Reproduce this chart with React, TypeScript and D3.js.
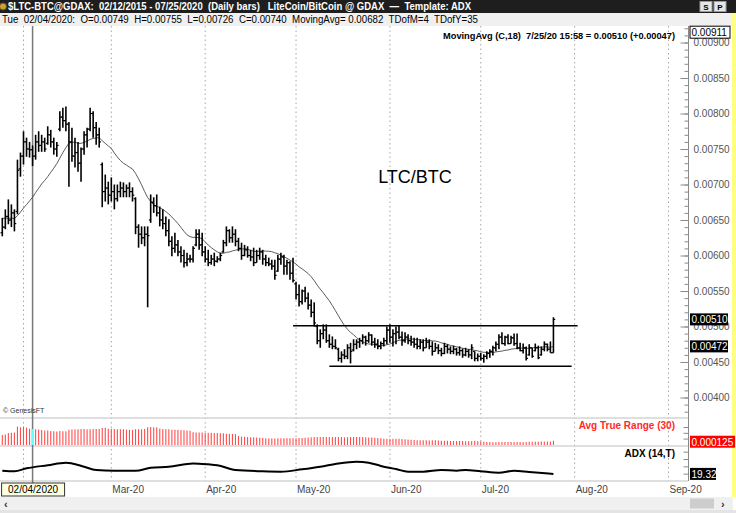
import * as d3 from "d3";
import { useEffect, useRef } from "react";

const W = 736;
const H = 513;
const FONT = "'Liberation Sans', Arial, sans-serif";

// daily bars, one per calendar day from FIRST_DAY; prices in 1e-5 BTC
const FIRST_DAY = "2020-01-25";
const OPEN = [
  632, 640, 655, 650, 660, 662, 722, 740, 760, 750,
  749, 740, 760, 755, 760, 758, 770, 760, 750, 778,
  795, 790, 785, 760, 740, 745, 730, 750, 770, 778,
  800, 780, 770, 728, 690, 695, 685, 690, 680, 690,
  695, 690, 695, 690, 680, 640, 630, 625, 630, 650,
  675, 670, 660, 650, 645, 635, 620, 610, 615, 605,
  600, 590, 595, 595, 615, 630, 615, 605, 595, 590,
  595, 592, 595, 605, 618, 635, 625, 630, 620, 610,
  600, 608, 600, 598, 590, 600, 605, 595, 590, 588,
  585, 578, 595, 598, 585, 590, 575, 560, 545, 535,
  550, 540, 530, 520, 500, 480, 490, 495, 480, 475,
  472, 468, 455, 460, 458, 470, 467, 475, 478, 480,
  485, 480, 488, 478, 475, 472, 476, 480, 495, 485,
  490, 492, 485, 480, 485, 480, 478, 475, 472, 478,
  470, 478, 472, 465, 470, 466, 462, 472, 468, 465,
  468, 463, 466, 460, 465, 460, 465, 455, 458, 455,
  458, 462, 465, 470, 475, 485, 476, 485, 476, 484,
  476, 470, 466, 470, 460, 470, 466, 470, 460, 468,
  475, 468, 463,
];
const HIGH = [
  653, 665, 679, 672, 665, 735, 745, 775, 766, 760,
  755, 770, 775, 770, 766, 782, 777, 766, 760, 803,
  808, 810, 788, 780, 766, 760, 752, 775, 780, 808,
  803, 788, 780, 731, 714, 704, 710, 700, 700, 704,
  703, 700, 703, 696, 682, 644, 641, 641, 641, 686,
  682, 686, 669, 665, 655, 651, 627, 632, 622, 613,
  608, 604, 601, 613, 637, 637, 632, 613, 608, 601,
  604, 599, 604, 622, 641, 637, 641, 637, 625, 618,
  615, 613, 608, 611, 608, 611, 608, 601, 597, 594,
  594, 601, 604, 601, 594, 592, 597, 563, 559, 552,
  556, 548, 538, 534, 503, 496, 503, 503, 489, 486,
  482, 470, 465, 468, 475, 477, 482, 482, 484, 489,
  487, 492, 489, 484, 482, 479, 484, 500, 503, 496,
  500, 501, 493, 492, 489, 487, 484, 484, 482, 482,
  484, 482, 479, 477, 475, 470, 477, 475, 472, 473,
  470, 472, 469, 470, 468, 475, 465, 462, 463, 461,
  465, 468, 473, 479, 489, 492, 487, 489, 487, 490,
  490, 477, 476, 472, 475, 470, 476, 473, 472, 479,
  476, 479, 513,
];
const LOW = [
  627, 637, 644, 640, 634, 658, 711, 728, 739, 738,
  726, 735, 746, 746, 746, 756, 752, 742, 739, 775,
  780, 775, 697, 732, 724, 718, 704, 742, 752, 775,
  766, 756, 752, 668, 676, 672, 676, 665, 676, 682,
  682, 682, 682, 676, 630, 611, 616, 613, 527, 646,
  660, 655, 641, 637, 627, 613, 599, 604, 599, 590,
  583, 585, 590, 590, 613, 608, 599, 590, 585, 587,
  585, 590, 592, 604, 613, 618, 618, 613, 606, 594,
  599, 597, 592, 585, 590, 594, 587, 585, 585, 580,
  566, 577, 587, 573, 573, 566, 562, 538, 528, 531,
  534, 524, 513, 500, 475, 470, 482, 477, 470, 468,
  468, 451, 449, 454, 454, 448, 465, 468, 470, 475,
  473, 477, 473, 470, 468, 468, 472, 475, 477, 472,
  475, 482, 473, 477, 475, 473, 470, 468, 468, 465,
  470, 468, 459, 465, 461, 458, 461, 462, 461, 461,
  459, 459, 456, 458, 456, 454, 451, 451, 452, 449,
  454, 456, 459, 465, 468, 475, 473, 475, 476, 473,
  468, 465, 462, 452, 459, 456, 465, 454, 459, 465,
  465, 463, 463,
];
const CLOSE = [
  640, 655, 650, 660, 645, 720, 740, 760, 750, 749,
  740, 760, 755, 760, 750, 770, 760, 750, 755, 795,
  790, 785, 760, 740, 745, 730, 750, 770, 778, 800,
  780, 770, 760, 690, 695, 685, 690, 680, 690, 695,
  690, 695, 690, 685, 640, 630, 625, 630, 628, 675,
  670, 660, 650, 645, 635, 620, 610, 615, 605, 600,
  590, 595, 595, 610, 630, 615, 605, 595, 590, 595,
  592, 595, 600, 618, 635, 625, 630, 620, 610, 600,
  608, 600, 598, 590, 600, 605, 595, 590, 588, 585,
  572, 595, 598, 585, 590, 575, 565, 545, 535, 550,
  540, 530, 520, 505, 480, 490, 495, 480, 475, 472,
  470, 455, 460, 458, 470, 465, 475, 478, 480, 485,
  480, 488, 478, 475, 472, 476, 480, 495, 485, 490,
  492, 485, 480, 485, 480, 478, 475, 472, 478, 470,
  478, 472, 465, 470, 466, 462, 472, 468, 465, 468,
  463, 466, 460, 465, 460, 470, 455, 458, 455, 458,
  462, 465, 470, 475, 485, 476, 485, 476, 484, 476,
  470, 466, 470, 455, 470, 458, 470, 456, 468, 475,
  468, 463, 510,
];
// closes of the 17 days before FIRST_DAY, only to warm up the 18-day average
const PRE_CLOSE = [648, 652, 660, 655, 645, 650, 658, 662, 655, 648, 640, 645, 652, 660, 675, 650, 645];

const ADX_DATES = [
  "2020-01-25", "2020-01-29", "2020-02-02", "2020-02-09", "2020-02-15", "2020-02-17", "2020-02-21",
  "2020-02-25", "2020-03-02", "2020-03-09", "2020-03-14", "2020-03-20", "2020-03-28", "2020-04-02",
  "2020-04-05", "2020-04-11", "2020-04-20", "2020-04-26", "2020-05-03", "2020-05-09", "2020-05-15",
  "2020-05-21", "2020-05-25", "2020-05-29", "2020-06-03", "2020-06-07", "2020-06-12", "2020-06-18",
  "2020-06-23", "2020-06-26", "2020-07-01", "2020-07-07", "2020-07-12", "2020-07-17", "2020-07-25",
];
const ADX_VALUES = [
  28, 26.5, 34.5, 43, 50, 48, 39, 30, 28, 28, 36, 39, 48, 45.5, 43, 30, 26.5, 25.5,
  32, 39, 48, 52.5, 50, 41, 32.5, 25.5, 25.5, 30, 28, 30, 26.5, 22.5, 28, 24.5, 19.32,
];

const MONTHS = ["2020-02-01", "2020-03-01", "2020-04-01", "2020-05-01", "2020-06-01", "2020-07-01", "2020-08-01", "2020-09-01"];
const PRICE_TICKS = [0.004, 0.0045, 0.005, 0.0055, 0.006, 0.0065, 0.007, 0.0075, 0.008, 0.0085, 0.009];
const SCALE_TOP = 0.00911;
const ATR_READOUT = 0.000125;
const CURSOR_DAY = "2020-02-04";
const RESIST = { from: "2020-04-30", to: "2020-08-02", value: 0.00501 };
const SUPPORT = { from: "2020-05-12", to: "2020-07-31", value: 0.00444 };

const TITLE = "$LTC-BTC@GDAX:  02/12/2015 - 07/25/2020  (Daily bars)   LiteCoin/BitCoin @ GDAX  \u2014  Template: ADX";

export default function App() {
  const ref = useRef<SVGSVGElement | null>(null);

  useEffect(() => {
    const el = ref.current;
    if (!el) return;
    const svg = d3.select(el);
    svg.selectAll("*").remove();

    const parse = d3.utcParse("%Y-%m-%d");
    const d0 = parse(FIRST_DAY)!;
    const fmt5 = (v: number) => v.toFixed(5);

    const bars = CLOSE.map((c, i) => ({
      i,
      d: d3.utcDay.offset(d0, i),
      o: OPEN[i] / 1e5,
      h: HIGH[i] / 1e5,
      l: LOW[i] / 1e5,
      c: c / 1e5,
    }));

    const allClose = [...PRE_CLOSE, ...CLOSE];
    const ma = CLOSE.map((_, i) => d3.mean(allClose.slice(i + PRE_CLOSE.length - 17, i + PRE_CLOSE.length + 1))! / 1e5);

    const tr = HIGH.map((h, i) => {
      const pc = i === 0 ? PRE_CLOSE[PRE_CLOSE.length - 1] : CLOSE[i - 1];
      return Math.max(h - LOW[i], Math.abs(h - pc), Math.abs(LOW[i] - pc));
    });
    const atr = tr.map((_, i) => d3.mean(tr.slice(Math.max(0, i - 29), i + 1))! / 1e5);

    const cursor = parse(CURSOR_DAY)!;
    const ci = d3.utcDay.count(d0, cursor);

    const x = d3.scaleUtc().domain([parse("2020-02-01")!, parse("2020-09-01")!]).range([23.5, 668.5]);
    const y = d3.scaleLinear().domain([0.004, 0.009]).range([397.5, 42.5]);
    const atrY = d3.scaleLinear().domain([0.000089, 0.000435]).range([445, 425]);
    const adxY = d3.scaleLinear().domain([0, 90]).range([481, 448]);

    svg.append("rect").attr("width", W).attr("height", H).attr("fill", "#fff");

    // header rows
    svg.append("rect").attr("width", W).attr("height", 13).attr("fill", "#1e1e1e");
    svg.append("rect").attr("y", 13).attr("width", W).attr("height", 13).attr("fill", "#f0f0f0");
    svg.append("circle").attr("cx", 3).attr("cy", 6.5).attr("r", 3.5).attr("fill", "#c9a23a").attr("stroke", "#6b4f10");
    svg.append("text")
      .attr("x", 8).attr("y", 10.3)
      .attr("fill", "#fff").attr("font-size", 10).attr("font-weight", "bold")
      .attr("textLength", 463).attr("lengthAdjust", "spacingAndGlyphs")
      .style("white-space", "pre")
      .text(TITLE);
    ["S", "P"].forEach((s, k) => {
      svg.append("rect").attr("x", 700 + k * 14).attr("y", 1.5).attr("width", 12).attr("height", 10)
        .attr("fill", "#e6e6e6").attr("stroke", "#9a9a9a");
      svg.append("text").attr("x", 706 + k * 14).attr("y", 9.6).attr("text-anchor", "middle")
        .attr("font-size", 8).attr("font-weight", "bold").attr("fill", "#000").text(s);
    });
    const cb = bars[ci];
    const tdY = d3.utcDay.count(d3.utcYear(cursor), cursor) + 1;
    const info =
      `Tue  ${d3.utcFormat("%m/%d/%Y")(cursor)}:  O=${fmt5(cb.o)}  H=${fmt5(cb.h)}  L=${fmt5(cb.l)}  C=${fmt5(cb.c)}  ` +
      `MovingAvg= ${fmt5(ma[ci])}  TDofM=${cursor.getUTCDate()}  TDofY=${tdY}`;
    svg.append("text")
      .attr("x", 2).attr("y", 23.3)
      .attr("fill", "#000").attr("font-size", 10)
      .attr("textLength", 476).attr("lengthAdjust", "spacingAndGlyphs")
      .style("white-space", "pre")
      .text(info);

    svg.append("rect").attr("x", 732).attr("y", 13).attr("width", 4).attr("height", 484).attr("fill", "#ffff80");

    // month grid
    const months = MONTHS.map((m) => parse(m)!);
    svg.append("g").selectAll("line").data(months).join("line")
      .attr("x1", (d) => x(d)).attr("x2", (d) => x(d))
      .attr("y1", 26).attr("y2", 481)
      .attr("stroke", "#a8a8a8").attr("stroke-dasharray", "1.5,3");

    // panel separators
    [418, 446, 481].forEach((yy) => {
      svg.append("line").attr("x1", 0).attr("x2", 688).attr("y1", yy).attr("y2", yy)
        .attr("stroke", "#d4d4d4").attr("stroke-width", 1.5);
    });

    // cursor
    svg.append("line").attr("x1", x(cursor)).attr("x2", x(cursor)).attr("y1", 26).attr("y2", 483)
      .attr("stroke", "#7a7a7a").attr("stroke-width", 1.5);

    // MA
    svg.append("path")
      .datum(bars)
      .attr("fill", "none").attr("stroke", "#4a4a4a").attr("stroke-width", 0.9)
      .attr("d", d3.line<(typeof bars)[number]>().x((d) => x(d.d)).y((d) => y(ma[d.i]))(bars)!);

    // OHLC bars
    const gb = svg.append("g").attr("stroke", "#000");
    gb.selectAll("line.v").data(bars).join("line").attr("class", "v")
      .attr("x1", (d) => x(d.d)).attr("x2", (d) => x(d.d))
      .attr("y1", (d) => y(d.h)).attr("y2", (d) => y(d.l))
      .attr("stroke-width", 1.6);
    gb.selectAll("line.o").data(bars).join("line").attr("class", "o")
      .attr("x1", (d) => x(d.d) - 1.8).attr("x2", (d) => x(d.d))
      .attr("y1", (d) => y(d.o)).attr("y2", (d) => y(d.o))
      .attr("stroke-width", 1.2);
    gb.selectAll("line.c").data(bars).join("line").attr("class", "c")
      .attr("x1", (d) => x(d.d)).attr("x2", (d) => x(d.d) + 1.8)
      .attr("y1", (d) => y(d.c)).attr("y2", (d) => y(d.c))
      .attr("stroke-width", 1.2);

    // trend lines
    [RESIST, SUPPORT].forEach((t) => {
      svg.append("line")
        .attr("x1", x(parse(t.from)!)).attr("x2", x(parse(t.to)!))
        .attr("y1", y(t.value)).attr("y2", y(t.value))
        .attr("stroke", "#000").attr("stroke-width", 1.5);
    });

    svg.append("text").attr("x", 415).attr("y", 183).attr("text-anchor", "middle")
      .attr("font-size", 18).attr("fill", "#000").text("LTC/BTC");

    const last = bars[bars.length - 1];
    const prev = bars[bars.length - 2];
    svg.append("text")
      .attr("x", 443).attr("y", 38.5)
      .attr("fill", "#000").attr("font-size", 9.5).attr("font-weight", "bold")
      .attr("textLength", 232).attr("lengthAdjust", "spacingAndGlyphs")
      .style("white-space", "pre")
      .text(`MovingAvg (C,18)  7/25/20 15:58 = ${fmt5(last.c)} (+${fmt5(last.c - prev.c)})`);

    svg.append("text").attr("x", 3).attr("y", 413).attr("font-size", 7).attr("fill", "#333").text("\u00a9 GenesisFT");

    // ATR histogram
    svg.append("g").selectAll("line").data(bars).join("line")
      .attr("x1", (d) => x(d.d)).attr("x2", (d) => x(d.d))
      .attr("y1", 445).attr("y2", (d) => atrY(atr[d.i]))
      .attr("stroke", (d) => (d.i === ci ? "#6ff" : "#ff4d4d"))
      .attr("stroke-width", (d) => (d.i === ci ? 2.2 : 1.1));
    svg.append("text").attr("x", 675).attr("y", 428.5).attr("text-anchor", "end")
      .attr("font-size", 10).attr("font-weight", "bold").attr("fill", "#ff2a2a").text("Avg True Range (30)");

    // ADX
    const adx = ADX_DATES.map((s, k) => ({ d: parse(s)!, v: ADX_VALUES[k] }));
    svg.append("path")
      .attr("fill", "none").attr("stroke", "#000").attr("stroke-width", 2)
      .attr("d", d3.line<{ d: Date; v: number }>().x((d) => x(d.d)).y((d) => adxY(d.v)).curve(d3.curveMonotoneX)(adx)!);
    svg.append("text").attr("x", 675).attr("y", 456.5).attr("text-anchor", "end")
      .attr("font-size", 10).attr("font-weight", "bold").attr("fill", "#000").text("ADX (14,T)");

    // right axis
    svg.append("line").attr("x1", 688.5).attr("x2", 688.5).attr("y1", 26).attr("y2", 481).attr("stroke", "#8a8a8a");
    const minor = d3.ticks(0.0038, 0.0092, 60);
    svg.append("g").attr("transform", "translate(688.5,0)")
      .call(d3.axisRight(y).tickValues(minor).tickSize(-4).tickSizeOuter(0).tickFormat(() => ""))
      .call((g) => g.select(".domain").remove())
      .call((g) => g.selectAll(".tick line").attr("stroke", "#8a8a8a"));
    svg.append("g").attr("transform", "translate(688.5,0)")
      .call(d3.axisRight(y).tickValues(PRICE_TICKS).tickSize(-8).tickSizeOuter(0).tickPadding(5)
        .tickFormat((v) => (v as number).toFixed(5)))
      .call((g) => g.select(".domain").remove())
      .call((g) => g.selectAll(".tick line").attr("stroke", "#8a8a8a"))
      .call((g) => g.selectAll(".tick text").attr("fill", "#555").attr("font-size", 10).attr("font-family", FONT));
    svg.append("g").attr("transform", "translate(688.5,0)")
      .call(d3.axisRight(adxY).tickValues([20, 40, 60, 80]).tickSize(-5).tickSizeOuter(0).tickFormat(() => ""))
      .call((g) => g.select(".domain").remove())
      .call((g) => g.selectAll(".tick line").attr("stroke", "#8a8a8a"));
    svg.append("g").attr("transform", "translate(688.5,0)")
      .call(d3.axisRight(atrY).tickValues([0.0002, 0.0003, 0.0004]).tickSize(-5).tickSizeOuter(0).tickFormat(() => ""))
      .call((g) => g.select(".domain").remove())
      .call((g) => g.selectAll(".tick line").attr("stroke", "#8a8a8a"));

    // value tags
    const tag = (yc: number, label: string, bg: string, fg: string, w: number, stroke = "none") => {
      svg.append("rect").attr("x", 690).attr("y", yc - 6).attr("width", w).attr("height", 12)
        .attr("fill", bg).attr("stroke", stroke);
      svg.append("text").attr("x", 691.5).attr("y", yc + 3.8).attr("font-size", 10).attr("fill", fg).text(label);
    };
    tag(y(SCALE_TOP) - 2.5, fmt5(SCALE_TOP), "#fff", "#000", 40, "#000");
    tag(y(last.c), fmt5(last.c), "#000", "#fff", 38);
    tag(y(ma[ma.length - 1]), fmt5(ma[ma.length - 1]), "#000", "#fff", 38);
    tag(atrY(atr[atr.length - 1]) + 1, ATR_READOUT.toFixed(6), "#f00", "#fff", 45);
    tag(adxY(ADX_VALUES[ADX_VALUES.length - 1]), d3.format(".2f")(ADX_VALUES[ADX_VALUES.length - 1]), "#000", "#fff", 26);

    // date axis (the month under the cursor box is hidden, as in the source)
    const boxL = x(cursor) - 31;
    const boxR = x(cursor) + 32;
    svg.append("g").selectAll("text").data(months.filter((d) => x(d) + 30 < boxL || x(d) > boxR)).join("text")
      .attr("x", (d) => x(d) + 1).attr("y", 492.5)
      .attr("font-size", 10).attr("fill", "#444")
      .text((d) => d3.utcFormat("%b-%y")(d));
    svg.append("rect").attr("x", boxL).attr("y", 483).attr("width", 63).attr("height", 13)
      .attr("fill", "#ffffe1").attr("stroke", "#333");
    svg.append("text").attr("x", x(cursor) + 0.5).attr("y", 493).attr("text-anchor", "middle")
      .attr("font-size", 10).attr("fill", "#000").text(d3.utcFormat("%m/%d/%Y")(cursor));

    // scrollbar
    svg.append("rect").attr("y", 497).attr("width", 733).attr("height", 13).attr("fill", "#f0f0f0");
    svg.append("rect").attr("y", 510).attr("width", W).attr("height", 3).attr("fill", "#e4e4e4");
    svg.append("rect").attr("x", 690).attr("y", 498.5).attr("width", 24).attr("height", 10).attr("fill", "#cdcdcd");
    svg.append("text").attr("x", 4).attr("y", 507.5).attr("font-size", 11).attr("font-weight", "bold").attr("fill", "#333").text("\u2039");
    svg.append("text").attr("x", 721).attr("y", 507.5).attr("font-size", 11).attr("font-weight", "bold").attr("fill", "#333").text("\u203a");
  }, []);

  return (
    <svg
      ref={ref}
      width={W}
      height={H}
      style={{ position: "absolute", left: 0, top: 0, display: "block", fontFamily: FONT }}
    />
  );
}
